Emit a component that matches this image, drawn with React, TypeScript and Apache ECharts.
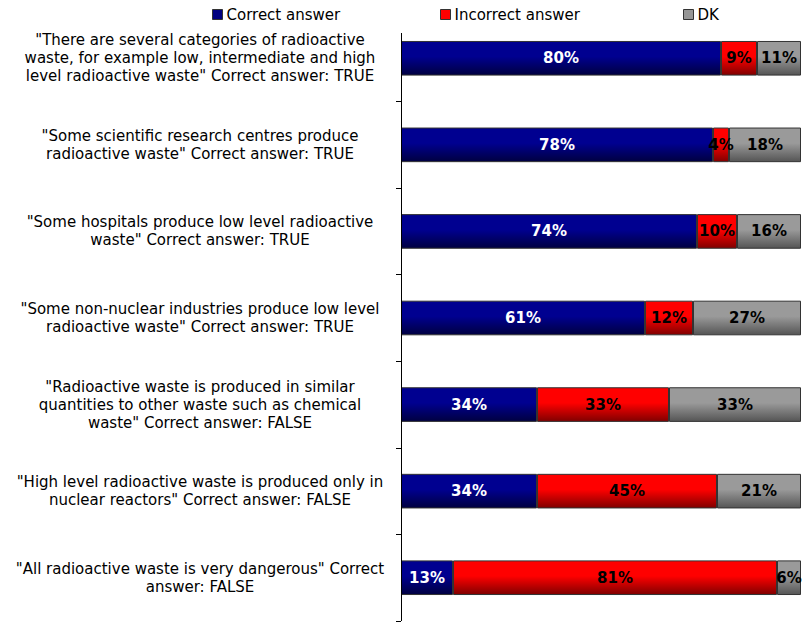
import React, { useEffect, useRef } from "react";
import * as echarts from "echarts";

const categories = [
  "\"There are several categories of radioactive\nwaste, for example low, intermediate and high\nlevel radioactive waste\" Correct answer: TRUE",
  "\"Some scientific research centres produce\nradioactive waste\" Correct answer: TRUE",
  "\"Some hospitals produce low level radioactive\nwaste\" Correct answer: TRUE",
  "\"Some non-nuclear industries produce low level\nradioactive waste\" Correct answer: TRUE",
  "\"Radioactive waste is produced in similar\nquantities to other waste such as chemical\nwaste\" Correct answer: FALSE",
  "\"High level radioactive waste is produced only in\nnuclear reactors\" Correct answer: FALSE",
  "\"All radioactive waste is very dangerous\" Correct\nanswer: FALSE",
];
const correct = [80, 78, 74, 61, 34, 34, 13];
const incorrect = [9, 4, 10, 12, 33, 45, 81];
const dk = [11, 18, 16, 27, 33, 21, 6];
const seriesNames = ["Correct answer", "Incorrect answer", "DK"];

const grad = (top: string, bottom: string) =>
  new echarts.graphic.LinearGradient(0, 0, 0, 1, [
    { offset: 0, color: top },
    { offset: 0.45, color: top },
    { offset: 1, color: bottom },
  ]);

export default function App() {
  const ref = useRef<HTMLDivElement>(null);
  useEffect(() => {
    if (!ref.current) return;
    const chart = echarts.init(ref.current, undefined, { renderer: "svg" });
    const font = "DejaVu Sans, Verdana, sans-serif";
    const mk = (name: string, data: number[], top: string, bottom: string, labelColor: string) => ({
      name,
      type: "bar",
      stack: "total",
      barWidth: "40%",
      data,
      itemStyle: { color: grad(top, bottom), borderColor: "#333333", borderWidth: 1 },
      label: {
        show: true,
        position: "inside",
        formatter: "{c}%",
        color: labelColor,
        fontWeight: "bold",
        fontSize: 15,
        fontFamily: font,
      },
      emphasis: { disabled: true },
    });
    const legendColors = ["#000080", "#FF0000", "#969696"];
    const legendLefts = [207, 435, 678];
    chart.setOption({
      animation: false,
      color: legendColors,
      legend: seriesNames.map((n, i) => ({
        top: 2,
        left: legendLefts[i],
        itemWidth: 10,
        itemHeight: 10,
        itemGap: 5,
        icon: "rect",
        selectedMode: false,
        textStyle: { fontFamily: font, fontSize: 15, color: "#000", padding: [0, 0, 0, -1] },
        data: [{ name: n, itemStyle: { color: legendColors[i], borderColor: "#333", borderWidth: 1 } }],
      })),
      grid: { left: 401, right: 3, top: 15, bottom: 5, containLabel: false },
      xAxis: {
        type: "value",
        min: 0,
        max: 100,
        show: false,
        splitLine: { show: false },
      },
      yAxis: {
        type: "category",
        inverse: true,
        data: categories,
        axisLine: { show: false },
        axisTick: { show: true, length: 5, inside: false, lineStyle: { color: "#000" } },
        axisLabel: {
          margin: 201,
          align: "center",
          fontFamily: font,
          fontSize: 15,
          lineHeight: 18,
          color: "#000",
        },
      },
      graphic: {
        elements: [
          {
            type: "rect",
            z: 1000,
            shape: { x: 388, y: 6, width: 16, height: 27 },
            style: { fill: "#ffffff" },
          },
          {
            type: "line",
            z: 1001,
            shape: { x1: 401.5, y1: 33, x2: 401.5, y2: 621 },
            style: { stroke: "#000000", lineWidth: 1 },
          },
        ],
      },
      series: [
        mk(seriesNames[0], correct, "#000090", "#000040", "#ffffff"),
        mk(seriesNames[1], incorrect, "#FF0000", "#800000", "#000000"),
        mk(seriesNames[2], dk, "#9a9a9a", "#555555", "#000000"),
      ],
    });
    return () => chart.dispose();
  }, []);
  return <div ref={ref} style={{ position: "absolute", left: 0, top: 0, width: 804, height: 626 }} />;
}
